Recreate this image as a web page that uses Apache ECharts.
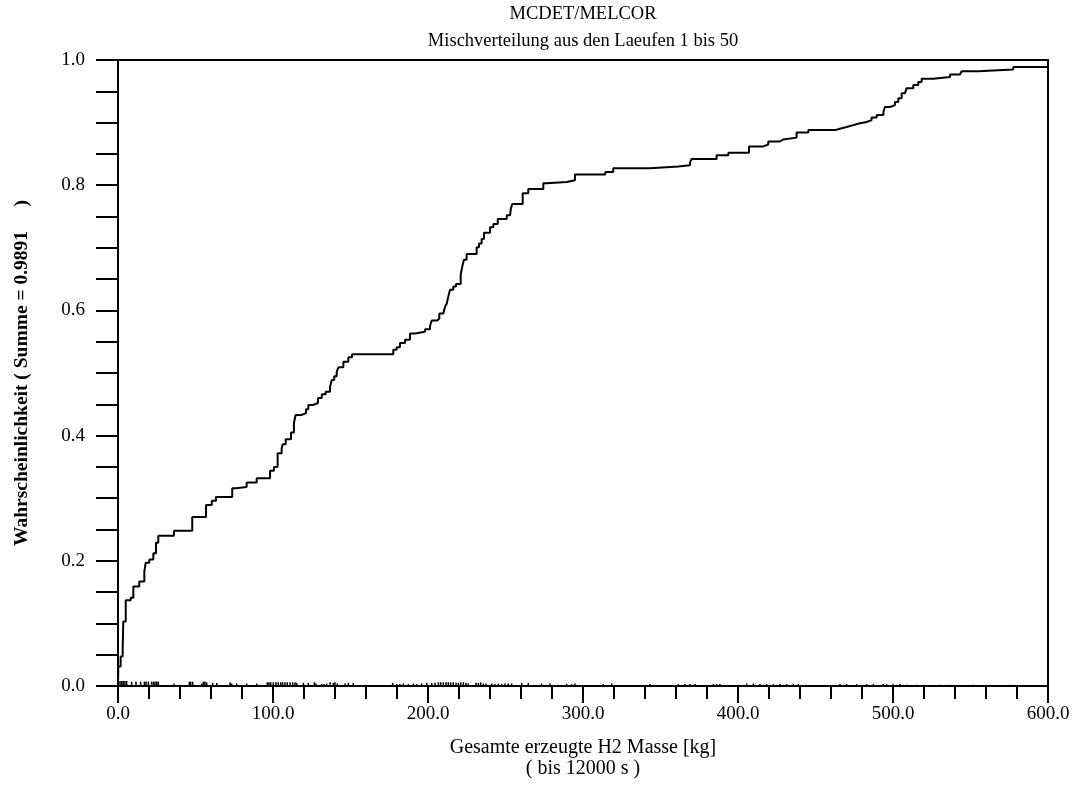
<!DOCTYPE html>
<html>
<head>
<meta charset="utf-8">
<script src="https://cdn.jsdelivr.net/npm/echarts@6/dist/echarts.min.js"></script>
<style>
html,body{margin:0;padding:0;background:#fff;}
#chart{width:1077px;height:794px;}
</style>
</head>
<body>
<div id="chart"></div>
<script>
// Step curve (cumulative distribution): jump positions and values after jump
const cdfX = [0, 0.2, 1.7, 3.0, 3.4, 5.0, 8.2, 9.9, 13.7, 17.0, 17.9, 20.2, 22.8, 24.5, 26.0, 36.1, 47.9, 56.8, 60.5, 63.2,
  73.7, 76.1, 83.0, 89.5, 98.1, 100.6, 103.0, 105.6, 106.3, 108.2, 111.6, 113.5, 114.6, 118.5, 121.3, 122.8, 126.0,
  129.0, 131.5, 134.0, 136.8, 137.9, 139.5, 141.1, 142.2, 145.4, 148.6, 151.0, 177.6, 179.8, 181.9, 185.2, 188.4, 191.6,
  198.1, 201.3, 202.4, 206.0, 207.3, 209.9, 211.0, 212.1, 213.1, 214.2, 216.3, 218.1, 221.1, 222.1, 223.2, 224.9,
  231.4, 232.9, 234.6, 236.1, 240.0, 242.2, 245.0, 250.8, 252.9, 253.5, 254.4, 261.1, 264.7, 274.4, 276.5, 289.5,
  294.8, 314.4, 319.5, 343.2, 361.5, 369.0, 370.1, 386.2, 393.8, 407.1, 416.3, 419.5, 427.1, 429.2, 437.8, 445.4,
  462.6, 466.9, 470.1, 474.4, 478.7, 483.0, 486.2, 489.5, 493.8, 494.8, 498.1, 501.3, 503.4, 505.6, 507.7, 508.8,
  513.1, 516.3, 518.5, 526.0, 536.8, 543.2, 544.3, 555.0, 577.6, 602.5];
const cdfY = [0, 0.031, 0.047, 0.058, 0.103, 0.137, 0.141, 0.159, 0.167, 0.183, 0.197, 0.202, 0.212, 0.229, 0.240, 0.248, 0.270, 0.289, 0.296, 0.302,
  0.316, 0.318, 0.325, 0.332, 0.344, 0.350, 0.372, 0.380, 0.386, 0.394, 0.405, 0.420, 0.433, 0.436, 0.442, 0.449, 0.452,
  0.460, 0.466, 0.470, 0.478, 0.489, 0.495, 0.502, 0.509, 0.518, 0.525, 0.530, 0.537, 0.541, 0.548, 0.553, 0.563, 0.566,
  0.570, 0.575, 0.584, 0.587, 0.595, 0.598, 0.606, 0.611, 0.622, 0.633, 0.638, 0.642, 0.657, 0.670, 0.681, 0.690,
  0.701, 0.707, 0.714, 0.724, 0.733, 0.738, 0.746, 0.752, 0.755, 0.763, 0.770, 0.787, 0.794, 0.803, 0.805, 0.808,
  0.817, 0.821, 0.827, 0.830, 0.832, 0.836, 0.842, 0.848, 0.852, 0.862, 0.865, 0.870, 0.873, 0.876, 0.884, 0.888,
  0.891, 0.893, 0.896, 0.899, 0.901, 0.904, 0.908, 0.912, 0.917, 0.925, 0.928, 0.933, 0.939, 0.947, 0.950, 0.955,
  0.960, 0.965, 0.970, 0.973, 0.977, 0.980, 0.982, 0.985, 0.989, 0.989];

// Individual run probabilities (small spikes along the x axis)
const spikeX = [1.3, 2.4, 3.4, 4.5, 5.6, 8.8, 11.6, 14.6, 17.0, 18.1, 19.6, 21.7, 22.8, 23.9, 25.0, 26.0, 36.1, 46.0, 46.9, 48.2,
  54.0, 55.1, 56.1, 57.2, 61.1, 63.7, 72.3, 73.3, 76.6, 83.0, 89.5, 96.3, 97.4, 98.5, 100.2, 101.9, 103.4, 105.0, 106.2,
  107.7, 109.2, 111.0, 112.7, 114.2, 115.3, 119.6, 122.8, 126.7, 127.7, 131.4, 132.9, 134.6, 136.8, 138.9, 140.0, 141.5,
  146.5, 148.6, 151.8, 177.2, 179.8, 181.9, 184.1, 187.3, 190.5, 192.7, 195.9, 199.2, 202.4, 204.5, 206.7, 208.2, 209.9,
  211.6, 213.1, 214.6, 216.3, 218.1, 219.6, 221.1, 222.8, 224.5, 226.0, 231.0, 232.5, 234.0, 235.7, 237.4, 241.1, 243.2,
  245.4, 247.5, 249.7, 251.8, 254.0, 260.5, 264.7, 273.3, 278.7, 289.5, 292.7, 294.8, 313.1, 318.5, 343.2, 361.5, 365.8,
  369.0, 372.3, 384.1, 386.2, 388.4, 405.6, 409.9, 414.2, 418.5, 422.8, 427.1, 431.4, 435.7, 438.9, 465.8, 470.1, 476.6,
  483.0, 487.3, 493.7, 495.9, 500.2, 504.5, 508.8, 515.3, 530.3, 536.8, 551.8, 562.6, 575.5];
const spikeH = [0.008, 0.008, 0.008, 0.008, 0.008, 0.007, 0.007, 0.007, 0.007, 0.007, 0.007, 0.007, 0.007, 0.007, 0.007, 0.007, 0.004, 0.007, 0.007, 0.007,
  0.004, 0.007, 0.007, 0.006, 0.005, 0.005, 0.006, 0.004, 0.004, 0.004, 0.004, 0.006, 0.006, 0.006, 0.006, 0.006, 0.006, 0.006, 0.006,
  0.006, 0.006, 0.006, 0.006, 0.006, 0.005, 0.005, 0.005, 0.006, 0.004, 0.003, 0.003, 0.004, 0.006, 0.005, 0.006, 0.004,
  0.004, 0.005, 0.005, 0.005, 0.003, 0.003, 0.004, 0.003, 0.004, 0.003, 0.004, 0.005, 0.005, 0.005, 0.006, 0.006, 0.006,
  0.006, 0.006, 0.006, 0.006, 0.005, 0.005, 0.006, 0.006, 0.005, 0.004, 0.005, 0.005, 0.006, 0.004, 0.004, 0.004, 0.003,
  0.004, 0.003, 0.004, 0.004, 0.004, 0.005, 0.005, 0.004, 0.004, 0.003, 0.003, 0.004, 0.003, 0.004, 0.003, 0.003, 0.003,
  0.003, 0.003, 0.003, 0.003, 0.003, 0.004, 0.004, 0.003, 0.003, 0.003, 0.003, 0.003, 0.003, 0.003, 0.003, 0.003, 0.003,
  0.003, 0.003, 0.003, 0.003, 0.003, 0.003, 0.002, 0.002, 0.002, 0.002, 0.002, 0.002, 0.002];

const titleLines = ['MCDET/MELCOR', 'Mischverteilung aus den Laeufen 1 bis 50'];
const xName = ['Gesamte erzeugte H2 Masse [kg]', '( bis 12000 s )'];
const yName = 'Wahrscheinlichkeit ( Summe = 0.9891     )';

const FONT = '"Liberation Serif", "Times New Roman", serif';
const chart = echarts.init(document.getElementById('chart'), null, {renderer: 'canvas'});
chart.setOption({
  backgroundColor: '#fff',
  animation: false,
  title: {
    text: titleLines.join('\n'),
    left: 583, top: 1, padding: 0, textAlign: 'center',
    textStyle: {fontFamily: FONT, fontSize: 18.5, fontWeight: 'normal', color: '#000', lineHeight: 27}
  },
  grid: {left: 118, right: 29, top: 60, bottom: 108, show: true, borderColor: '#000', borderWidth: 2, backgroundColor: 'transparent'},
  xAxis: {
    type: 'value', min: 0, max: 600, interval: 100,
    name: xName.join('\n'), nameLocation: 'middle', nameGap: 51,
    nameTextStyle: {fontFamily: FONT, fontSize: 20, color: '#000', lineHeight: 21},
    axisLine: {show: true, onZero: false, lineStyle: {color: '#000', width: 2}},
    axisTick: {show: true, length: 17, lineStyle: {color: '#000', width: 2}},
    minorTick: {show: true, splitNumber: 5, length: 13, lineStyle: {color: '#000', width: 2}},
    axisLabel: {fontFamily: FONT, fontSize: 19, color: '#000', margin: 19, formatter: v => v.toFixed(1)},
    splitLine: {show: false}
  },
  yAxis: {
    type: 'value', min: 0, max: 1, interval: 0.2,
    name: yName, nameLocation: 'middle', nameGap: 86, nameRotate: 90,
    nameTextStyle: {fontFamily: FONT, fontSize: 19.5, fontWeight: 'bold', color: '#000'},
    axisLine: {show: true, onZero: false, lineStyle: {color: '#000', width: 2}},
    axisTick: {show: true, length: 22, lineStyle: {color: '#000', width: 2}},
    minorTick: {show: true, splitNumber: 4, length: 22, lineStyle: {color: '#000', width: 2}},
    axisLabel: {fontFamily: FONT, fontSize: 19, color: '#000', margin: 33, formatter: v => v.toFixed(1)},
    splitLine: {show: false}
  },
  series: [
    {
      type: 'bar', barWidth: 1.5, silent: true,
      itemStyle: {color: '#000'},
      data: spikeX.map((x, i) => [x, spikeH[i]])
    },
    {
      type: 'line', step: 'end', symbol: 'none', clip: false, silent: true,
      lineStyle: {color: '#000', width: 2},
      data: cdfX.map((x, i) => [x, cdfY[i]])
    }
  ]
});
</script>
</body>
</html>
